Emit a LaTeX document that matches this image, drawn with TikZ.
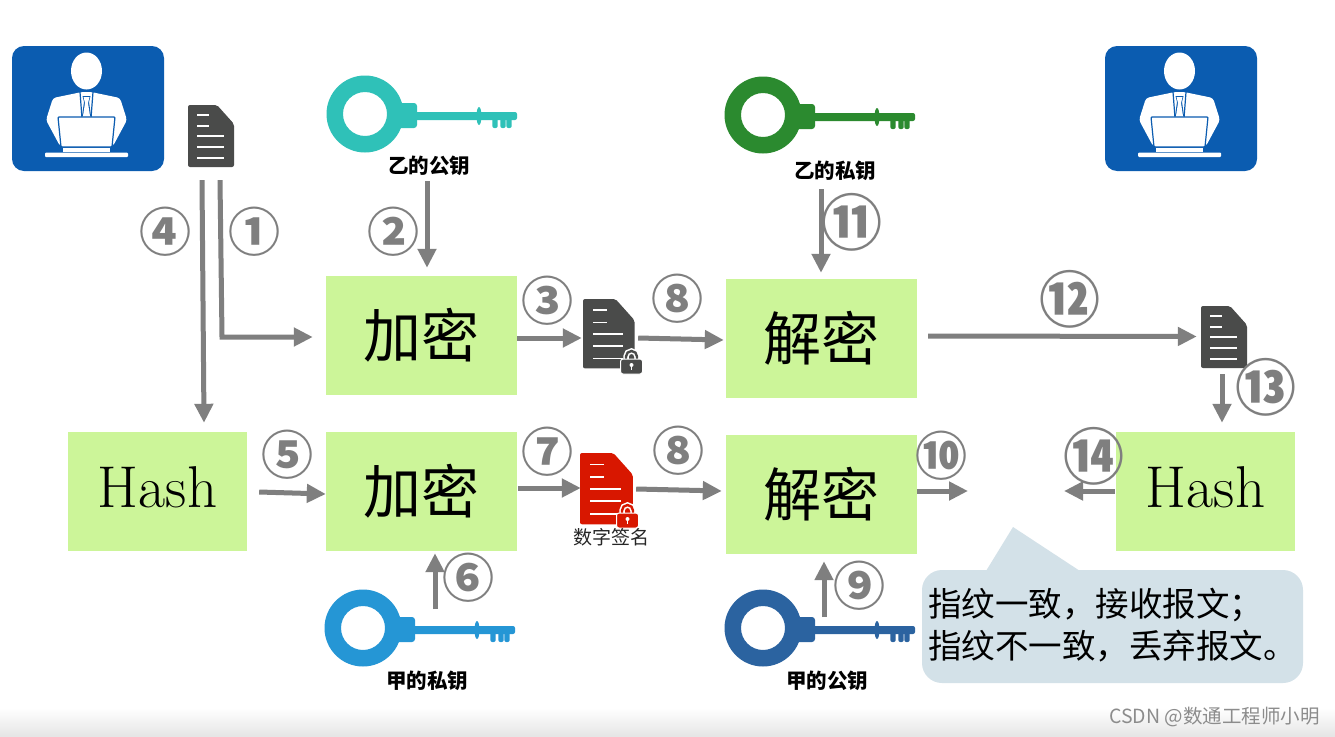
\documentclass[tikz,border=0pt]{standalone}
\usepackage{fontspec}
\newfontfamily\cjk{Noto Sans CJK SC}
\usetikzlibrary{arrows.meta,calc}
\definecolor{flowgrey}{HTML}{7F7F7F}
\definecolor{boxgreen}{HTML}{CCF599}
\definecolor{userblue}{HTML}{0B5CB0}
\definecolor{docgrey}{HTML}{4A4B4A}
\definecolor{docred}{HTML}{D81700}
\definecolor{calloutblue}{HTML}{D3E1E8}
\definecolor{keyteal}{HTML}{2FC1B8}
\definecolor{keygreen}{HTML}{2B8A2F}
\definecolor{keyblue}{HTML}{2596D5}
\definecolor{keynavy}{HTML}{2B63A0}
\tikzset{
  flow/.style={draw=flowgrey,line width=5pt,-{Triangle[length=19pt,width=18pt]}},
  stagebox/.style={fill=boxgreen,inner sep=0pt,minimum height=119pt,font=\fontsize{58}{62}\selectfont},
  enclabel/.style={stagebox,minimum width=191pt},
  hashlabel/.style={stagebox,minimum width=179pt,font=\fontsize{59}{64}\selectfont},
  iconbox/.style={inner sep=0pt,minimum width=#1,draw=none},
  keylabel/.style={inner sep=0pt,font=\cjk\bfseries\fontsize{20.5}{24}\selectfont},
  stepnum/.style={inner sep=0pt,text=flowgrey,font=\cjk\bfseries\fontsize{52}{60}\selectfont},
  stepbig/.style={inner sep=0pt,text=flowgrey,font=\cjk\bfseries\fontsize{61}{70}\selectfont},
}
\newcommand{\usericon}[2]{%
\begin{scope}[shift={(#1,#2)}]
  \fill[userblue,rounded corners=12pt] (0,0) rectangle (152,125);
  \fill[white] (74.5,25) ellipse [x radius=15.5,y radius=18.5];
  \fill[white,rounded corners=3pt] (70,46) -- (41,52) -- (34,74) -- (48,100) -- (101,100) -- (115,74) -- (108,52) -- (79,46) -- cycle;
  \draw[userblue,line width=1.2pt] (68,46) -- (70,72) (81,46) -- (79,72);
  \fill[userblue] (70.5,50) -- (78.5,50) -- (77,56) -- (79,70) -- (70,70) -- (72,56) -- cycle;
  \fill[white] (71.5,51) -- (77.5,51) -- (76,57) -- (78,70) -- (71,70) -- (73,57) -- cycle;
  \fill[white,draw=userblue,line width=1.2pt,rounded corners=1pt] (46,71) -- (103,71) -- (100,101) -- (49,101) -- cycle;
  \fill[white] (51,102) rectangle (98,105.5);
  \fill[white,rounded corners=1pt] (33,106.5) rectangle (116,111);
\end{scope}}
\newcommand{\docicon}[4]{% left, top, scale, colour
\begin{scope}[shift={(#1,#2)},scale=#3]
  \fill[#4,rounded corners=2pt] (0,0) -- (29,0) -- (46,19) -- (46,62) -- (0,62) -- cycle;
  \draw[white,line width=1.7pt] (9,10) -- (21,10) (9,21) -- (21,21) (9,31) -- (36,31) (9,42) -- (36,42) (9,53) -- (36,53);
\end{scope}}
\newcommand{\lockicon}[3]{% left, top, colour
\begin{scope}[shift={(#1,#2)}]
  \draw[white,line width=5.5pt] (5,11) -- (5,7.5) arc[start angle=180,end angle=360,radius=5.5] -- (16,11);
  \draw[#3,line width=2.4pt] (5,11) -- (5,7.5) arc[start angle=180,end angle=360,radius=5.5] -- (16,11);
  \fill[#3,draw=white,line width=1pt,rounded corners=2.5pt] (-0.5,10) rectangle (21.5,25);
  \fill[white] (10.5,16) circle (2);
  \fill[white] (9.6,16) rectangle (11.4,21);
\end{scope}}
\newcommand{\keyicon}[3]{% ring centre, colour
\begin{scope}[shift={(#1,#2)}]
  \fill[#3,even odd rule] (0,0) circle (38.5) (0,0) circle (22);
  \fill[#3,rounded corners=3pt] (30,-11) rectangle (52,14);
  \fill[#3,rounded corners=2pt] (48,-2) rectangle (152,6);
  \fill[#3] (114,2) ellipse [x radius=2.5,y radius=9];
  \foreach \t in {130,138,144}{\fill[#3,rounded corners=2pt] (\t-2.7,4) rectangle (\t+2.7,14);}
\end{scope}}
\begin{document}
\begin{tikzpicture}[x=1pt,y=-1pt]
\useasboundingbox (0,0) rectangle (1335,736);
\fill[white] (0,0) rectangle (1335,736);
\shade[top color=white,bottom color=black!10] (0,708) rectangle (1335,736);

% icons
\usericon{12}{46}
\usericon{1105}{46}
\docicon{188}{105}{1}{docgrey}
\docicon{583}{299}{1.12}{docgrey}
\lockicon{621}{349}{docgrey}
\docicon{580}{453}{1.15}{docred}
\lockicon{617}{503}{docred}
\docicon{1201}{306}{1}{docgrey}
\keyicon{365}{114}{keyteal}
\keyicon{763}{115}{keygreen}
\keyicon{363}{628}{keyblue}
\keyicon{763}{628}{keynavy}

% anchors for the icons
\node[iconbox=46pt,minimum height=62pt] (plaindoc) at (211,136) {};
\node[iconbox=51pt,minimum height=72pt] (lockdoc) at (608.5,335) {};
\node[iconbox=51pt,minimum height=73pt] (sigdoc) at (605.5,489.5) {};
\node[iconbox=46pt,minimum height=61pt] (recvdoc) at (1224,336.5) {};

% stages
\node[enclabel] (enc1) at (421.5,335.5) {\cjk 加密};
\node[enclabel] (dec1) at (821.5,338.5) {\cjk 解密};
\node[hashlabel] (hash1) at (157.5,491.5) {\raisebox{8pt}{Hash}};
\node[enclabel] (enc2) at (421.5,491.5) {\cjk 加密};
\node[enclabel] (dec2) at (821.5,494.5) {\cjk 解密};
\node[hashlabel] (hash2) at (1205.5,491.5) {\raisebox{8pt}{Hash}};

% key labels
\node[keylabel] (lblA) at (429,166) {乙的公钥};
\node[keylabel] (lblB) at (835,171) {乙的私钥};
\node[keylabel] (lblC) at (427,681) {甲的私钥};
\node[keylabel] (lblD) at (827,681) {甲的公钥};
\node[inner sep=0pt,text=black!85,font=\cjk\fontsize{19}{22}\selectfont] (siglabel) at (611,537) {数字签名};

% connectors
\coordinate (bend1) at (222,337);
\coordinate (match1) at (968,491);
\coordinate (match2) at (1064,491);
\draw[flow] ([xshift=9pt,yshift=-13pt]plaindoc.south) -- (bend1) -- ([xshift=-13pt,yshift=-1.5pt]enc1.west);
\draw[flow] ([xshift=-9pt,yshift=-13pt]plaindoc.south) -- ([xshift=46.5pt,yshift=9pt]hash1.north);
\draw[flow] ([xshift=-2pt,yshift=-15pt]lblA.center) -- ([xshift=5.5pt,yshift=8pt]enc1.north);
\draw[flow] ([yshift=-2.5pt]enc1.east) -- ([xshift=-1pt,yshift=-3pt]lockdoc.west);
\draw[flow] ([xshift=4pt,yshift=-3pt]lockdoc.east) -- ([xshift=-2pt,yshift=-1.5pt]dec1.west);
\draw[flow] ([xshift=-14pt,yshift=-18pt]lblB.center) -- ([xshift=-.5pt,yshift=6pt]dec1.north);
\draw[flow] ([xshift=11pt,yshift=2.5pt]dec1.east) -- ([xshift=-4pt]recvdoc.west);
\draw[flow] ([xshift=-2pt,yshift=-7pt]recvdoc.south) -- ([xshift=16.5pt,yshift=9pt]hash2.north);
\draw[flow] ([xshift=12pt,yshift=-.5pt]hash1.east) -- ([yshift=-2.5pt]enc2.west);
\draw[flow] ([xshift=1pt,yshift=3.5pt]enc2.east) -- ([xshift=1pt,yshift=1.5pt]sigdoc.west);
\draw[flow] ([xshift=5pt,yshift=.5pt]sigdoc.east) -- ([xshift=-4pt,yshift=3.5pt]dec2.west);
\draw[flow] ([yshift=3.5pt]dec2.east) -- (match1);
\draw[flow] ([xshift=-1pt,yshift=.5pt]hash2.west) -- (match2);
\draw[flow] ([xshift=8pt,yshift=72pt]lblC.center) -- ([xshift=13.5pt,yshift=-2pt]enc2.south);
\draw[flow] ([xshift=-3pt,yshift=64pt]lblD.center) -- ([xshift=2.5pt,yshift=-7pt]dec2.south);

% step numbers
\node[stepnum] (s4) at (165,232) {④};
\node[stepnum] (s1) at (254,232) {①};
\node[stepnum] (s2) at (393,232) {②};
\node[stepnum] (s3) at (547,301) {③};
\node[stepnum] (s8a) at (677,299) {⑧};
\node[stepbig] (s11) at (852,222) {⑪};
\node[stepbig] (s12) at (1070,299) {⑫};
\node[stepbig] (s13) at (1266,387) {⑬};
\node[stepnum] (s5) at (287,455) {⑤};
\node[stepnum] (s7) at (547,452) {⑦};
\node[stepnum] (s8b) at (678,451) {⑧};
\node[stepnum] (s10) at (941,456) {⑩};
\node[stepbig] (s14) at (1094,456) {⑭};
\node[stepnum] (s6) at (468,578) {⑥};
\node[stepnum] (s9) at (859,586) {⑨};

% callout
\fill[calloutblue,rounded corners=20pt] (922,570) rectangle (1303,683);
\fill[calloutblue] (986,571) -- (1013,527) -- (1080,571) -- cycle;
\node[anchor=west,inner sep=0pt,font=\cjk\fontsize{33.5}{40}\selectfont] (msgA) at (928,605) {指纹一致\symbol{"FF0C}接收报文\symbol{"FF1B}};
\node[anchor=west,inner sep=0pt,font=\cjk\fontsize{33.5}{40}\selectfont] (msgB) at (928,646) {指纹不一致\symbol{"FF0C}丢弃报文。};

% watermark
\node[anchor=east,inner sep=0pt,text=black!45,font=\cjk\fontsize{19.5}{22}\selectfont] (mark) at (1320,717) {CSDN @数通工程师小明};
\end{tikzpicture}
\end{document}
